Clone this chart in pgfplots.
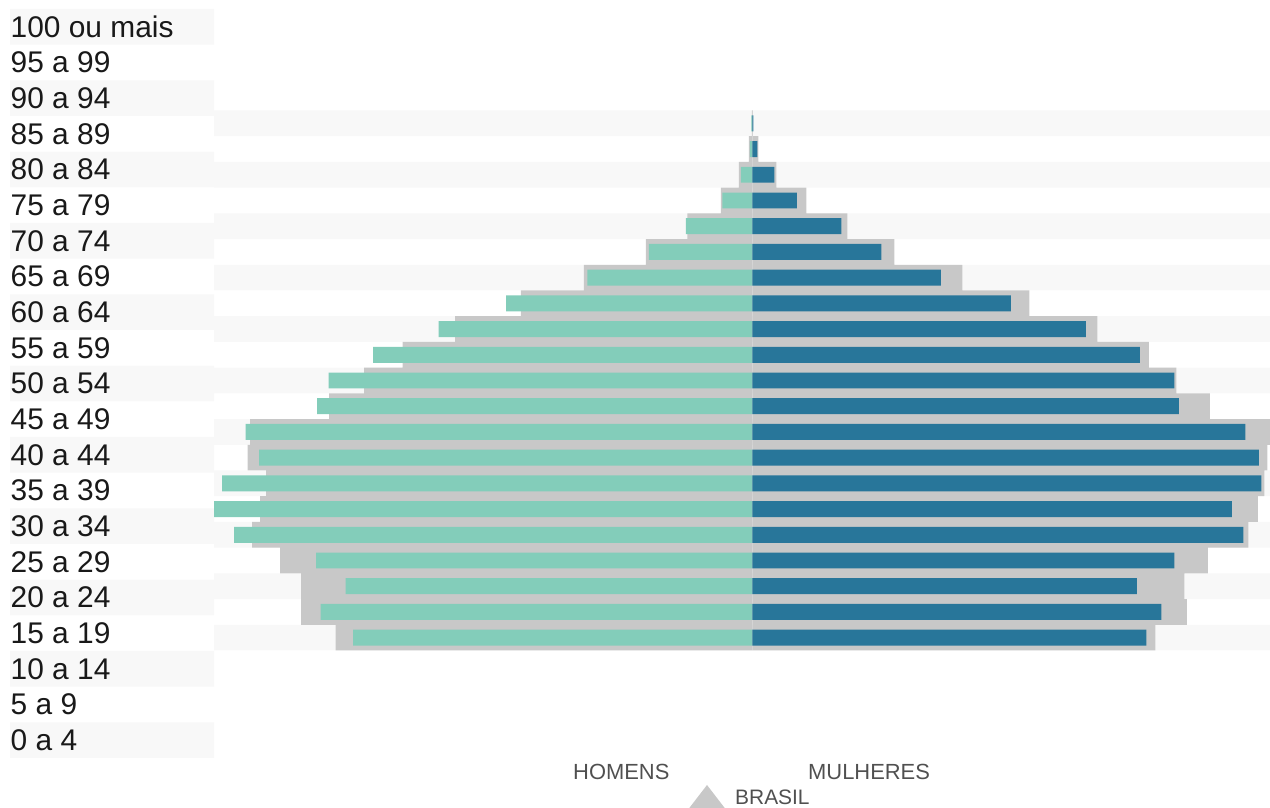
\documentclass[border=0pt]{standalone}
\usepackage{pgfplots}
\pgfplotsset{compat=1.18}
\usepackage{pgfplotstable}
\usepackage{fontspec}
\setmainfont{Liberation Sans}

\definecolor{faixa}{HTML}{F8F8F8}
\definecolor{brasil}{HTML}{C8C8C8}
\definecolor{homens}{HTML}{83CDBA}
\definecolor{mulheres}{HTML}{28769A}
\definecolor{legenda}{HTML}{505050}

% idx 0 = 0 a 4 ... idx 20 = 100 ou mais (percentual da populacao)
\pgfplotstableread{
idx hom    mul    brh    brm
0   -3.995 3.940  -4.170 4.030
1   -4.320 4.090  -4.515 4.345
2   -4.070 3.845  -4.515 4.320
3   -4.365 4.220  -4.725 4.555
4   -5.185 4.910  -5.005 4.960
5   -5.390 4.795  -4.925 5.055
6   -5.305 5.090  -4.865 5.120
7   -4.935 5.065  -5.050 5.150
8   -5.070 4.930  -5.025 5.250
9   -4.355 4.263  -4.235 4.575
10  -4.240 4.220  -3.885 4.240
11  -3.795 3.875  -3.500 3.965
12  -3.140 3.333  -2.975 3.450
13  -2.465 2.585  -2.315 2.770
14  -1.650 1.883  -1.685 2.100
15  -1.035 1.288  -1.065 1.420
16  -0.665 0.890  -0.650 0.950
17  -0.300 0.443  -0.315 0.540
18  -0.115 0.220  -0.135 0.240
19  -0.025 0.050  -0.035 0.060
20  -0.010 0.010  -0.005 0.005
}\piramide

% linhas com fundo cinza claro
\pgfplotstableread{
idx esq dir
0  -6 6
2  -6 6
4  -6 6
6  -6 6
8  -6 6
10 -6 6
12 -6 6
14 -6 6
16 -6 6
18 -6 6
20 -6 6
}\faixas

\begin{document}
\begin{tikzpicture}
\useasboundingbox (0,0) rectangle (1270bp,808bp);

% coluna das faixas etarias
\begin{axis}[
  at={(10bp,50bp)}, anchor=south west,
  scale only axis, width=204bp, height=749bp,
  xmin=0, xmax=1, ymin=-0.5, ymax=20.5,
  axis on top,
  axis x line=none, axis y line*=left,
  y axis line style={draw=none},
  ytick={0,...,20},
  yticklabels={0 a 4,5 a 9,10 a 14,15 a 19,20 a 24,25 a 29,30 a 34,35 a 39,
    40 a 44,45 a 49,50 a 54,55 a 59,60 a 64,65 a 69,70 a 74,75 a 79,80 a 84,
    85 a 89,90 a 94,95 a 99,100 ou mais},
  ytick style={draw=none}, major tick length=0pt,
  yticklabel style={anchor=west, inner sep=0pt, xshift=0.5bp,
    font=\fontsize{30}{36}\selectfont, text=black!90},
]
\addplot[xbar, bar shift=0, bar width=1, fill=faixa, draw=none]
  table[x=dir, y=idx] {\faixas};
\end{axis}

% piramide
\begin{axis}[
  at={(214bp,157.5bp)}, anchor=south west,
  scale only axis, width=1056bp, height=540bp,
  xmin=-5.385, xmax=5.175, ymin=-0.5, ymax=20.5,
  hide axis,
]
\addplot[xbar, bar shift=0, bar width=1, fill=faixa, draw=none]
  table[x=esq, y=idx] {\faixas};
\addplot[xbar, bar shift=0, bar width=1, fill=faixa, draw=none]
  table[x=dir, y=idx] {\faixas};
\addplot[xbar, bar shift=0, bar width=1, fill=brasil, draw=none]
  table[x=brh, y=idx] {\piramide};
\addplot[xbar, bar shift=0, bar width=1, fill=brasil, draw=none]
  table[x=brm, y=idx] {\piramide};
\addplot[xbar, bar shift=0, bar width=0.62, fill=homens, draw=none]
  table[x=hom, y=idx] {\piramide};
\addplot[xbar, bar shift=0, bar width=0.62, fill=mulheres, draw=none]
  table[x=mul, y=idx] {\piramide};
\end{axis}

% legenda
\node[anchor=base west, inner sep=0pt, text=legenda,
  font=\fontsize{22}{26}\selectfont] at (573bp,29bp) {HOMENS};
\node[anchor=base west, inner sep=0pt, text=legenda,
  font=\fontsize{22}{26}\selectfont] at (808bp,29bp) {MULHERES};
\fill[brasil] (687bp,-3bp) -- (707bp,23bp) -- (727bp,-3bp) -- cycle;
\node[anchor=base west, inner sep=0pt, text=legenda,
  font=\fontsize{21}{25}\selectfont] at (735bp,4bp) {BRASIL};
\end{tikzpicture}
\end{document}
